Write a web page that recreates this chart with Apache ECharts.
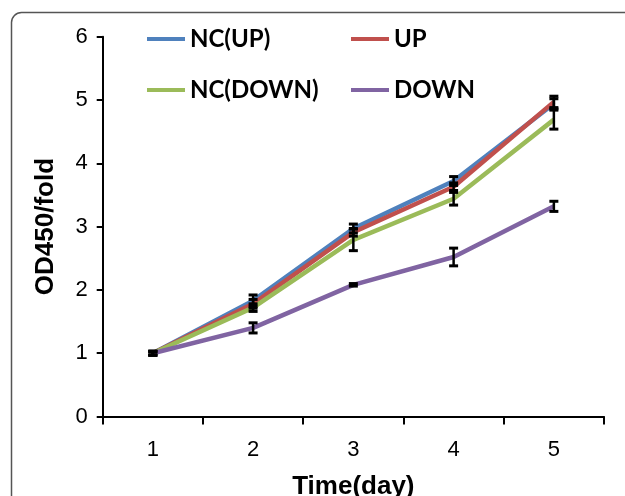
<!DOCTYPE html>
<html>
<head>
<meta charset="utf-8">
<script src="https://cdn.jsdelivr.net/npm/echarts@6/dist/echarts.min.js"></script>
<style>html,body{margin:0;padding:0;background:#fff;}#c{width:625px;height:496px;}</style>
</head>
<body>
<div id="c"></div>
<script>
var days = ['1', '2', '3', '4', '5'];
var yTicks = [0, 1, 2, 3, 4, 5, 6];
var seriesNames = ['NC(UP)', 'UP', 'NC(DOWN)', 'DOWN'];
var ncUp = [1.00, 1.83, 2.97, 3.72, 4.94];
var up = [1.00, 1.78, 2.91, 3.63, 4.97];
var ncDown = [1.00, 1.72, 2.79, 3.44, 4.69];
var down = [1.00, 1.40, 2.08, 2.52, 3.32];
var ncUpErr = [0.03, 0.09, 0.07, 0.07, 0.08];
var upErr = [0.03, 0.07, 0.06, 0.06, 0.09];
var ncDownErr = [0.03, 0.06, 0.17, 0.10, 0.15];
var downErr = [0.03, 0.08, 0.02, 0.14, 0.08];
var colors = ['#4F81BD', '#C0504D', '#9BBB59', '#8064A2'];

var values = [ncUp, up, ncDown, down];
var errs = [ncUpErr, upErr, ncDownErr, downErr];

function errData(v, e) {
  return v.map(function (d, i) { return [i, d - e[i], d + e[i]]; });
}
function renderErr(params, api) {
  var x = api.value(0);
  var lo = api.coord([x, api.value(1)]);
  var hi = api.coord([x, api.value(2)]);
  var w = 4.5;
  var st = { stroke: '#000', lineWidth: 2.5 };
  var cap = { stroke: '#000', lineWidth: 3 };
  return {
    type: 'group',
    children: [
      { type: 'line', shape: { x1: hi[0], y1: hi[1], x2: lo[0], y2: lo[1] }, style: st },
      { type: 'line', shape: { x1: hi[0] - w, y1: hi[1], x2: hi[0] + w, y2: hi[1] }, style: cap },
      { type: 'line', shape: { x1: lo[0] - w, y1: lo[1], x2: lo[0] + w, y2: lo[1] }, style: cap }
    ]
  };
}

var series = [];
seriesNames.forEach(function (n, k) {
  series.push({
    name: n, type: 'line', data: values[k], showSymbol: false, symbol: 'none',
    lineStyle: { color: colors[k], width: 4.5 }, itemStyle: { color: colors[k] },
    z: 2 + k, animation: false
  });
});
seriesNames.forEach(function (n, k) {
  series.push({
    name: n + ' err', type: 'custom', data: errData(values[k], errs[k]),
    renderItem: renderErr, z: 10, animation: false, silent: true
  });
});

var legendText = { fontFamily: 'Lato', fontWeight: 'bold', fontSize: 24, color: '#000', lineHeight: 24 };
var chart = echarts.init(document.getElementById('c'), null, { renderer: 'canvas' });
chart.setOption({
  animation: false,
  backgroundColor: '#fff',
  color: colors,
  graphic: [{
    type: 'rect', left: 9, top: 10, shape: { width: 700, height: 600, r: 10 },
    style: { fill: 'none', stroke: '#555', lineWidth: 1.5 }, z: -1
  }],
  legend: [{
    data: [seriesNames[0], seriesNames[2]], orient: 'vertical', left: 147, top: 27, padding: 0,
    itemWidth: 38, itemHeight: 4, itemGap: 27, icon: 'rect', textStyle: legendText
  }, {
    data: [seriesNames[1], seriesNames[3]], orient: 'vertical', left: 351, top: 27, padding: 0,
    itemWidth: 38, itemHeight: 4, itemGap: 27, icon: 'rect', textStyle: legendText
  }],
  grid: { left: 102.7, right: 21, top: 36.7, bottom: 79.5, containLabel: false, outerBoundsMode: 'none' },
  xAxis: {
    type: 'category', data: days, boundaryGap: true,
    name: 'Time(day)', nameLocation: 'middle', nameGap: 57,
    nameTextStyle: { fontFamily: 'Liberation Sans', fontWeight: 'bold', fontSize: 26, color: '#000' },
    axisLine: { show: true, lineStyle: { color: '#000', width: 2 } },
    axisTick: { show: true, inside: false, length: 8, alignWithLabel: false, lineStyle: { color: '#000', width: 2 } },
    axisLabel: { fontFamily: 'Liberation Sans', fontSize: 22, color: '#000', margin: 22 },
    splitLine: { show: false }
  },
  yAxis: {
    type: 'value', min: yTicks[0], max: yTicks[yTicks.length - 1], interval: 1,
    name: 'OD450/fold', nameLocation: 'middle', nameGap: 44, nameRotate: 90,
    nameTextStyle: { fontFamily: 'Liberation Sans', fontWeight: 'bold', fontSize: 26, color: '#000' },
    axisLine: { show: true, lineStyle: { color: '#000', width: 2 } },
    axisTick: { show: true, inside: false, length: 6, lineStyle: { color: '#000', width: 2 } },
    axisLabel: { fontFamily: 'Liberation Sans', fontSize: 22, color: '#000', margin: 15 },
    splitLine: { show: false }
  },
  series: series
});
</script>
</body>
</html>
